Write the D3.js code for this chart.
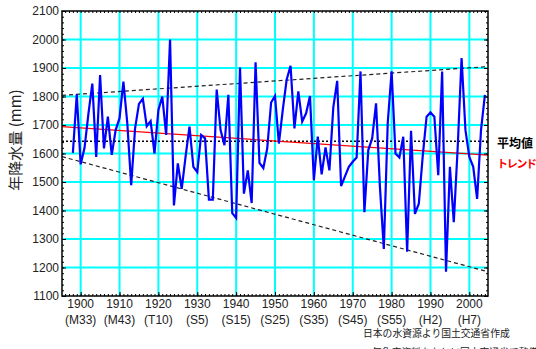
<!DOCTYPE html>
<html lang="ja">
<head>
    <meta charset="utf-8">
    <title>年降水量の経年変化</title>
    <script src="https://d3js.org/d3.v7.min.js" charset="utf-8"></script>
    <style>
        body { margin: 0; background: #fff; }
        text { font-family: "Liberation Sans", Arial, sans-serif; }
        .jp { font-family: "Noto Sans CJK JP", sans-serif; }
    </style>
</head>
<body>

<script>

    var w = 536;
    var h = 349;

    // 年降水量 (mm), 1898年から2004年まで
    var firstYear = 1898;
    var rainfall = [
        1602, 1808, 1562, 1620, 1740, 1845, 1588, 1875, 1618, 1729,   // 1898-1907
        1595, 1682, 1724, 1852, 1706, 1489, 1688, 1774, 1792, 1696,   // 1908-1917
        1714, 1600, 1753, 1800, 1665, 2000, 1418, 1565, 1476, 1590,   // 1918-1927
        1694, 1553, 1535, 1665, 1653, 1438, 1438, 1824, 1682, 1629,   // 1928-1937
        1806, 1391, 1374, 1902, 1459, 1541, 1426, 1920, 1567, 1549,   // 1938-1947
        1618, 1779, 1802, 1635, 1753, 1859, 1908, 1688, 1818, 1712,   // 1948-1957
        1741, 1802, 1506, 1659, 1527, 1621, 1541, 1762, 1855, 1486,   // 1958-1967
        1520, 1553, 1571, 1586, 1888, 1394, 1612, 1653, 1776, 1482,   // 1968-1977
        1265, 1706, 1888, 1600, 1586, 1659, 1255, 1680, 1388, 1424,   // 1978-1987
        1590, 1729, 1744, 1729, 1524, 1888, 1185, 1553, 1359, 1620,   // 1988-1997
        1935, 1682, 1588, 1553, 1441, 1682, 1806                      // 1998-2004
    ];

    var yearTicks = [1900, 1910, 1920, 1930, 1940, 1950, 1960, 1970, 1980, 1990, 2000];
    var eraLabels = ["(M33)", "(M43)", "(T10)", "(S5)", "(S15)", "(S25)", "(S35)", "(S45)", "(S55)", "(H2)", "(H7)"];
    var rainTicks = [1100, 1200, 1300, 1400, 1500, 1600, 1700, 1800, 1900, 2000, 2100];

    var meanValue = 1643;                                  // 平均値
    var trendLine = [[1895.2, 1694], [2004.8, 1594]];      // トレンド
    var upperLine = [[1895.2, 1804], [2004.8, 1905]];
    var lowerLine = [[1895.2, 1589], [2004.8, 1185]];

    var pLeft = 62, pRight = 488, pTop = 11, pBottom = 296;

    var svg = d3.select("body")
        .append("svg")
        .attr("width", w)
        .attr("height", h);

    var x = d3.scaleLinear().domain([1895.2, 2004.8]).range([pLeft, pRight]);
    var y = d3.scaleLinear().domain([1100, 2100]).range([pBottom, pTop]);

    var data = rainfall.map(function(v, i) { return {year: firstYear + i, value: v}; });

    // グリッド
    svg.append("g").selectAll("line")
        .data(yearTicks)
        .enter().append("line")
        .attr("x1", function(d) { return x(d); })
        .attr("x2", function(d) { return x(d); })
        .attr("y1", pTop).attr("y2", pBottom)
        .attr("stroke", "#00ffff").attr("stroke-width", 2);

    svg.append("g").selectAll("line")
        .data(rainTicks.slice(1, -1))
        .enter().append("line")
        .attr("x1", pLeft).attr("x2", pRight)
        .attr("y1", function(d) { return y(d); })
        .attr("y2", function(d) { return y(d); })
        .attr("stroke", "#00ffff").attr("stroke-width", 2);

    var line = d3.line()
        .x(function(d) { return x(d[0]); })
        .y(function(d) { return y(d[1]); });

    // 上限・下限の破線
    [upperLine, lowerLine].forEach(function(l) {
        svg.append("path")
            .attr("d", line(l))
            .attr("fill", "none")
            .attr("stroke", "#222")
            .attr("stroke-width", 1.2)
            .attr("stroke-dasharray", "4,3");
    });

    // 平均値
    svg.append("path")
        .attr("d", line([[1895.2, meanValue], [2004.8, meanValue]]))
        .attr("fill", "none")
        .attr("stroke", "#000")
        .attr("stroke-width", 1.5)
        .attr("stroke-dasharray", "2,2");

    // トレンド
    svg.append("path")
        .attr("d", line(trendLine))
        .attr("fill", "none")
        .attr("stroke", "#ff0000")
        .attr("stroke-width", 1.3);

    // 年降水量
    svg.append("path")
        .datum(data)
        .attr("d", d3.line()
            .x(function(d) { return x(d.year); })
            .y(function(d) { return y(d.value); }))
        .attr("fill", "none")
        .attr("stroke", "#0000ff")
        .attr("stroke-width", 2.2);

    // 軸 (目盛りは内向き)
    var minorYears = d3.range(1896, 2005);
    var minorRain = d3.range(1100, 2101, 20);

    function noDomain(g) { g.select(".domain").remove(); }

    svg.append("g")
        .attr("transform", "translate(0," + pBottom + ")")
        .call(d3.axisTop(x).tickValues(minorYears).tickSize(2).tickFormat(""))
        .call(noDomain);
    svg.append("g")
        .attr("transform", "translate(0," + pBottom + ")")
        .call(d3.axisTop(x).tickValues(yearTicks).tickSize(4).tickFormat(""))
        .call(noDomain);
    svg.append("g")
        .attr("transform", "translate(0," + pTop + ")")
        .call(d3.axisBottom(x).tickValues(minorYears).tickSize(2).tickFormat(""))
        .call(noDomain);
    svg.append("g")
        .attr("transform", "translate(" + pLeft + ",0)")
        .call(d3.axisRight(y).tickValues(minorRain).tickSize(2).tickFormat(""))
        .call(noDomain);
    svg.append("g")
        .attr("transform", "translate(" + pLeft + ",0)")
        .call(d3.axisRight(y).tickValues(rainTicks).tickSize(4).tickFormat(""))
        .call(noDomain);
    svg.append("g")
        .attr("transform", "translate(" + pRight + ",0)")
        .call(d3.axisLeft(y).tickValues(minorRain).tickSize(2).tickFormat(""))
        .call(noDomain);
    svg.append("g")
        .attr("transform", "translate(" + pRight + ",0)")
        .call(d3.axisLeft(y).tickValues(rainTicks).tickSize(4).tickFormat(""))
        .call(noDomain);

    svg.selectAll(".tick line").attr("stroke", "#000").attr("stroke-width", 1);

    // 枠
    svg.append("rect")
        .attr("x", pLeft).attr("y", pTop)
        .attr("width", pRight - pLeft).attr("height", pBottom - pTop)
        .attr("fill", "none")
        .attr("stroke", "#000")
        .attr("stroke-width", 1.5);

    // 目盛りラベル
    svg.append("g").selectAll("text")
        .data(rainTicks)
        .enter().append("text")
        .attr("x", pLeft - 3)
        .attr("y", function(d) { return y(d); })
        .attr("dy", "0.36em")
        .attr("text-anchor", "end")
        .attr("font-size", 12)
        .attr("fill", "#222")
        .text(function(d) { return d; });

    var xl = svg.append("g").selectAll("g")
        .data(yearTicks)
        .enter().append("g")
        .attr("transform", function(d) { return "translate(" + x(d) + ",0)"; });
    xl.append("text")
        .attr("y", 308)
        .attr("text-anchor", "middle")
        .attr("font-size", 12)
        .attr("fill", "#222")
        .text(function(d) { return d; });
    xl.append("text")
        .attr("y", 324)
        .attr("text-anchor", "middle")
        .attr("font-size", 12)
        .attr("fill", "#222")
        .text(function(d, i) { return eraLabels[i]; });

    // 縦軸タイトル
    svg.append("text")
        .attr("class", "jp")
        .attr("transform", "translate(21,140) rotate(-90)")
        .attr("text-anchor", "middle")
        .attr("font-size", 15)
        .attr("fill", "#222")
        .text("年降水量 (mm)");

    // 凡例
    svg.append("text")
        .attr("class", "jp")
        .attr("x", 497).attr("y", 148)
        .attr("font-size", 12).attr("font-weight", "bold")
        .attr("fill", "#000")
        .text("平均値");
    svg.append("text")
        .attr("class", "jp")
        .attr("x", 497).attr("y", 168)
        .attr("font-size", 11).attr("font-weight", "bold")
        .attr("letter-spacing", -1.3)
        .attr("fill", "#ff0000")
        .text("トレンド");

    // 出典
    svg.append("text")
        .attr("class", "jp")
        .attr("x", 363).attr("y", 337)
        .attr("font-size", 9.8)
        .attr("fill", "#222")
        .text("日本の水資源より国土交通省作成");
    svg.append("text")
        .attr("class", "jp")
        .attr("x", 372).attr("y", 356)
        .attr("font-size", 9.8)
        .attr("fill", "#222")
        .text("気象庁資料をもとに国土交通省で整備したものによる");

</script>
</body>
</html>
